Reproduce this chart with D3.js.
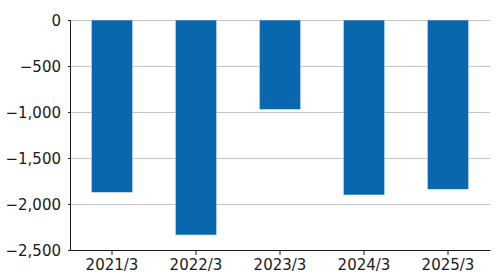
<!DOCTYPE html>
<html>
<head>
<meta charset="utf-8">
<script src="https://cdn.jsdelivr.net/npm/d3@7"></script>
<style>
  body { margin: 0; background: #fff; }
  svg text { font-family: "DejaVu Sans", Verdana, sans-serif; font-size: 15px; fill: #1a1a1a; }
</style>
</head>
<body>
<svg id="chart" width="500" height="280"></svg>
<script>
const categories = ["2021/3", "2022/3", "2023/3", "2024/3", "2025/3"];
const values = [-1873, -2337, -971, -1902, -1840];
const yTicks = [0, -500, -1000, -1500, -2000, -2500];

const svg = d3.select("#chart");
const margin = {top: 20, right: 10, bottom: 30, left: 70};
const width = +svg.attr("width") - margin.left - margin.right;
const height = +svg.attr("height") - margin.top - margin.bottom;

const g = svg.append("g").attr("transform", `translate(${margin.left},${margin.top})`);

const x = d3.scaleBand().domain(categories).range([0, width]).paddingInner(0.51).paddingOuter(0.255);
const y = d3.scaleLinear().domain([-2500, 0]).range([height, 0]);

// grid lines
g.append("g")
    .selectAll("line")
    .data(yTicks)
    .join("line")
    .attr("x1", 0)
    .attr("x2", width)
    .attr("y1", d => Math.round(y(d)) + 0.5)
    .attr("y2", d => Math.round(y(d)) + 0.5)
    .attr("stroke", "#c3c3c3")
    .attr("stroke-width", 1);

// bars
g.append("g")
    .selectAll("rect")
    .data(values)
    .join("rect")
    .attr("x", (d, i) => x(categories[i]))
    .attr("width", x.bandwidth())
    .attr("y", d => y(0))
    .attr("height", d => y(d) - y(0))
    .attr("fill", "#0967ae")
    .attr("stroke", "#cfe2f3")
    .attr("stroke-width", 0.6);

// y axis
const yAxis = g.append("g")
    .call(d3.axisLeft(y).tickValues(yTicks).tickSize(2).tickPadding(7).tickFormat(d3.format(",")));
yAxis.select(".domain").attr("stroke", "#1a1a1a");
yAxis.selectAll(".tick line").attr("stroke", "#1a1a1a");
yAxis.selectAll("text").attr("font-size", null).attr("font-family", null).attr("dy", "0.36em");

// x axis
const xAxis = g.append("g")
    .attr("transform", `translate(0,${height})`)
    .call(d3.axisBottom(x).tickSize(5).tickSizeOuter(0).tickPadding(4));
xAxis.select(".domain").attr("stroke", "#1a1a1a");
xAxis.selectAll(".tick line").attr("stroke", "#1a1a1a");
xAxis.selectAll("text").attr("font-size", null).attr("font-family", null);
</script>
</body>
</html>
